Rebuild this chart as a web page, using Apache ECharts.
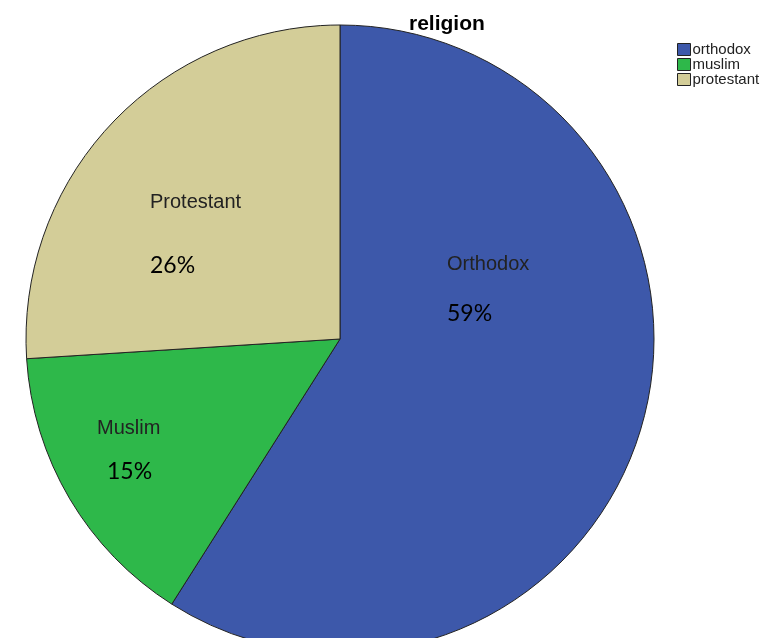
<!DOCTYPE html>
<html>
<head>
<meta charset="utf-8">
<script src="https://cdn.jsdelivr.net/npm/echarts@6/dist/echarts.min.js"></script>
<style>
  html, body { margin: 0; padding: 0; background: #fff; }
  #chart { width: 761px; height: 638px; }
</style>
</head>
<body>
<div id="chart"></div>
<script>
// legend entries and slice values (percent of respondents)
const categories = ['orthodox', 'muslim', 'protestant']
const sliceNames = ['Orthodox', 'Muslim', 'Protestant']
const values = [59, 15, 26]

const colors = ['#3d58aa', '#2eb84a', '#d3cd98']

// where each in-slice label sits: left x, centre y of the name line,
// distance down to the percent line, extra indent of the percent
const labelSpots = [
  { x: 447, y: 264, gap: 50, indent: 0 },
  { x: 97, y: 428, gap: 44, indent: 10 },
  { x: 150, y: 202, gap: 64, indent: 0 },
]

const chart = echarts.init(document.getElementById('chart'))

chart.setOption({
  animation: false,
  color: colors,
  title: {
    text: 'religion',
    left: 404,
    top: 9,
    textStyle: {
      fontFamily: 'Liberation Sans, Arial, sans-serif',
      fontWeight: 'bold',
      fontSize: 21,
      color: '#000',
    },
  },
  legend: {
    orient: 'vertical',
    left: 672,
    top: 37,
    itemWidth: 13,
    itemHeight: 12,
    itemGap: 0,
    icon: 'rect',
    itemStyle: { borderColor: '#222', borderWidth: 1 },
    textStyle: {
      fontFamily: 'Liberation Sans, Arial, sans-serif',
      fontSize: 15,
      color: '#222',
      padding: [0, 0, 0, -3],
    },
    data: categories,
  },
  series: [
    {
      type: 'pie',
      center: [340, 339],
      radius: 314,
      startAngle: 90,
      clockwise: true,
      silent: true,
      itemStyle: { borderColor: '#222', borderWidth: 1 },
      labelLine: { show: false },
      label: {
        show: true,
        position: 'inside',
      },
      labelLayout: (params) => {
        const spot = labelSpots[params.dataIndex]
        return { x: spot.x, y: spot.y - 12, align: 'left', verticalAlign: 'top' }
      },
      data: categories.map((name, i) => ({
        name,
        value: values[i],
        label: {
          formatter: (p) => `{n|${sliceNames[p.dataIndex]}}\n{p|${Math.round(p.percent)}%}`,
          rich: {
            n: {
              fontFamily: 'Liberation Sans, Arial, sans-serif',
              fontSize: 20,
              lineHeight: 24,
              color: '#222',
            },
            p: {
              fontFamily: 'Lato, sans-serif',
              fontSize: 23,
              lineHeight: 2 * (labelSpots[i].gap - 12),
              color: '#000',
              padding: [0, 0, 0, labelSpots[i].indent],
            },
          },
        },
      })),
    },
  ],
})
</script>
</body>
</html>
